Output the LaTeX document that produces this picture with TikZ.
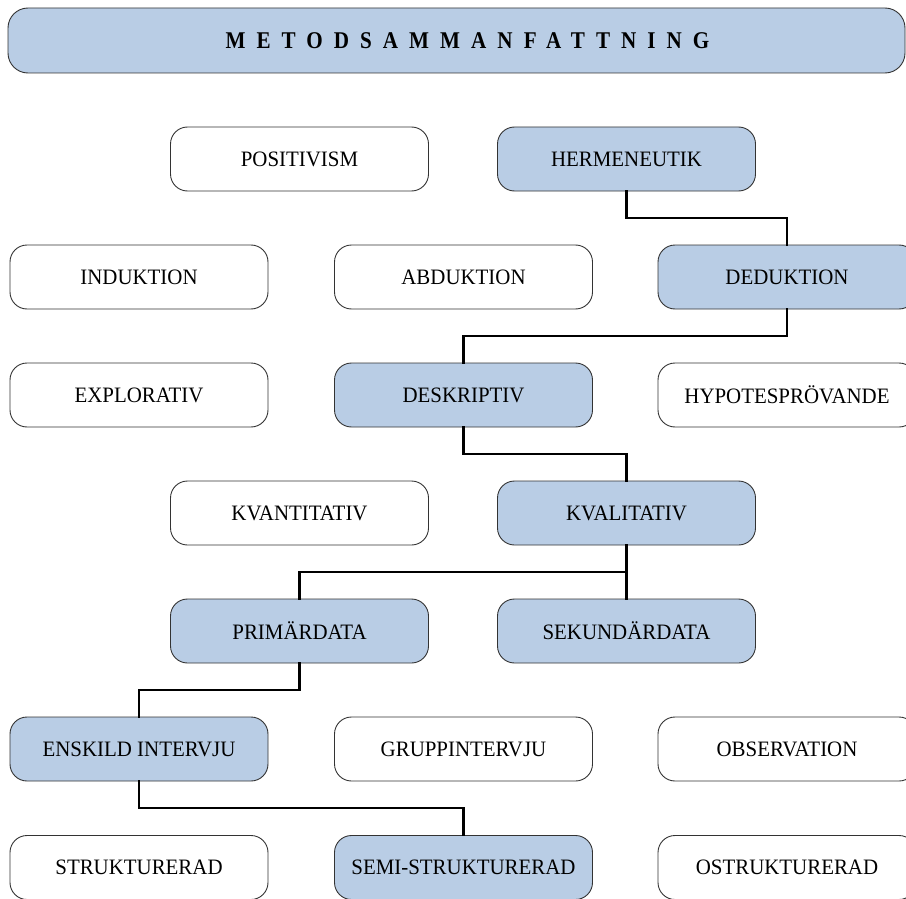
\documentclass[tikz,border=0pt]{standalone}
\usepackage{fontspec}
\setmainfont{Liberation Serif}[FakeStretch=0.95]
\newfontfamily\titlefont{Liberation Serif}[LetterSpace=46,FakeStretch=0.88]
\usetikzlibrary{calc}
\definecolor{boxblue}{HTML}{B9CDE5}
\definecolor{edgegray}{HTML}{333333}
\tikzset{
  box/.style={draw=edgegray, line width=0.9pt, rounded corners=17pt,
    minimum width=258pt, minimum height=64pt, inner sep=0pt,
    font=\fontsize{22}{25}\selectfont, text=black, anchor=center},
  sel/.style={box, fill=boxblue},
  plain/.style={box, fill=white},
  link/.style={line width=2.4pt, black, line cap=rect},
}
\newcommand{\elbow}[2]{\draw[link] (#1.south) -- ($(#1.south)!0.5!(#1.south|-#2.north)$) -| (#2.north);}
\begin{document}
\begin{tikzpicture}[x=1pt,y=-1pt]
\useasboundingbox (0,0) rectangle (906,899);
\node[draw=edgegray, line width=0.9pt, fill=boxblue, rounded corners=20pt,
  minimum width=897pt, minimum height=65pt, inner sep=0pt]
  (title) at (456.5,40.5) {\hspace*{22pt}\titlefont\bfseries\fontsize{24}{27}\selectfont METODSAMMANFATTNING};
% row 1
\node[plain] (pos) at (299.5,159) {POSITIVISM};
\node[sel]   (her) at (626.5,159) {HERMENEUTIK};
% row 2
\node[plain] (ind) at (139,277) {INDUKTION};
\node[plain] (abd) at (463.5,277) {ABDUKTION};
\node[sel]   (ded) at (787,277) {DEDUKTION};
% row 3
\node[plain] (exp) at (139,395) {EXPLORATIV};
\node[sel]   (des) at (463.5,395) {DESKRIPTIV};
\node[plain] (hyp) at (787,395) {HYPOTESPRÖVANDE};
% row 4
\node[plain] (kvan) at (299.5,513) {KVANTITATIV};
\node[sel]   (kval) at (626.5,513) {KVALITATIV};
% row 5
\node[sel] (prim) at (299.5,631) {PRIMÄRDATA};
\node[sel] (sek)  at (626.5,631) {SEKUNDÄRDATA};
% row 6
\node[sel]   (ens) at (139,749) {ENSKILD INTERVJU};
\node[plain] (grp) at (463.5,749) {GRUPPINTERVJU};
\node[plain] (obs) at (787,749) {OBSERVATION};
% row 7
\node[plain] (str)  at (139,867.5) {STRUKTURERAD};
\node[sel]   (semi) at (463.5,867.5) {SEMI-STRUKTURERAD};
\node[plain] (ostr) at (787,867.5) {OSTRUKTURERAD};
% connectors
\elbow{her}{ded}
\elbow{ded}{des}
\elbow{des}{kval}
\elbow{kval}{prim}
\draw[link] (kval.south) -- (sek.north);
\elbow{prim}{ens}
\elbow{ens}{semi}
\end{tikzpicture}
\end{document}
